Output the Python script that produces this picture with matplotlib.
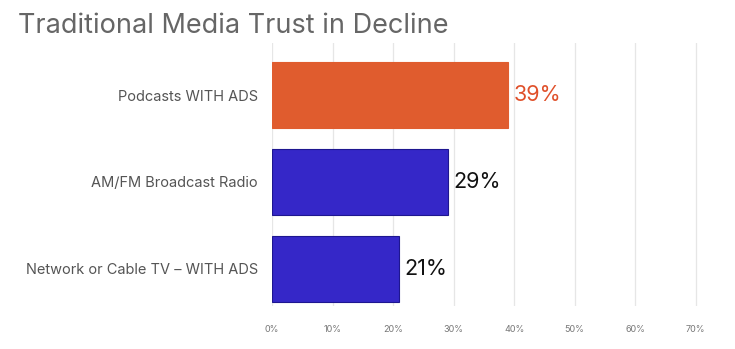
import matplotlib
matplotlib.use("Agg")
import matplotlib.pyplot as plt
from matplotlib.ticker import FuncFormatter

plt.rcParams['font.family'] = ['Inter', 'DejaVu Sans']

# Trust share by media type (bottom to top)
categories = ["Network or Cable TV \u2013 WITH ADS", "AM/FM Broadcast Radio", "Podcasts WITH ADS"]
values = [21, 29, 39]
bar_colors = ["#3527C8", "#3527C8", "#E05C2E"]
edge_colors = ["#1E1690", "#1E1690", "#E05C2E"]
label_colors = ["#111111", "#111111", "#E0502A"]
x_ticks = [0, 10, 20, 30, 40, 50, 60, 70]

fig = plt.figure(figsize=(7.35, 3.49), dpi=100)
ax = fig.add_axes([272 / 735, 1 - 306 / 349, (720 - 272) / 735, (306 - 43) / 349])

ypos = list(range(len(categories)))
ax.barh(ypos, values, height=0.76, color=bar_colors, edgecolor=edge_colors, linewidth=0.8, zorder=3)
for y, v, c in zip(ypos, values, label_colors):
    ax.text(v + 0.9, y, f"{v}%", va="center", ha="left", fontsize=15.5, color=c, zorder=4)

ax.set_xlim(0, 74)
ax.set_ylim(-0.43, 2.6)
ax.set_xticks(x_ticks)
ax.xaxis.set_major_formatter(FuncFormatter(lambda v, _: f"{v:.0f}%"))
ax.tick_params(axis="x", length=0, labelsize=6.5, labelcolor="#777777", pad=14)
ax.set_yticks(ypos)
ax.set_yticklabels(categories, fontsize=10.5, color="#555555")
ax.tick_params(axis="y", length=0, pad=10)
ax.grid(axis="x", color="#e6e6e6", linewidth=0.9, zorder=0)
for s in ax.spines.values():
    s.set_visible(False)

fig.text(18 / 735, 1 - 26 / 349, "Traditional Media Trust in Decline", fontsize=19.5,
         color="#666666", ha="left", va="center")

fig.savefig("out.png", dpi=100)
